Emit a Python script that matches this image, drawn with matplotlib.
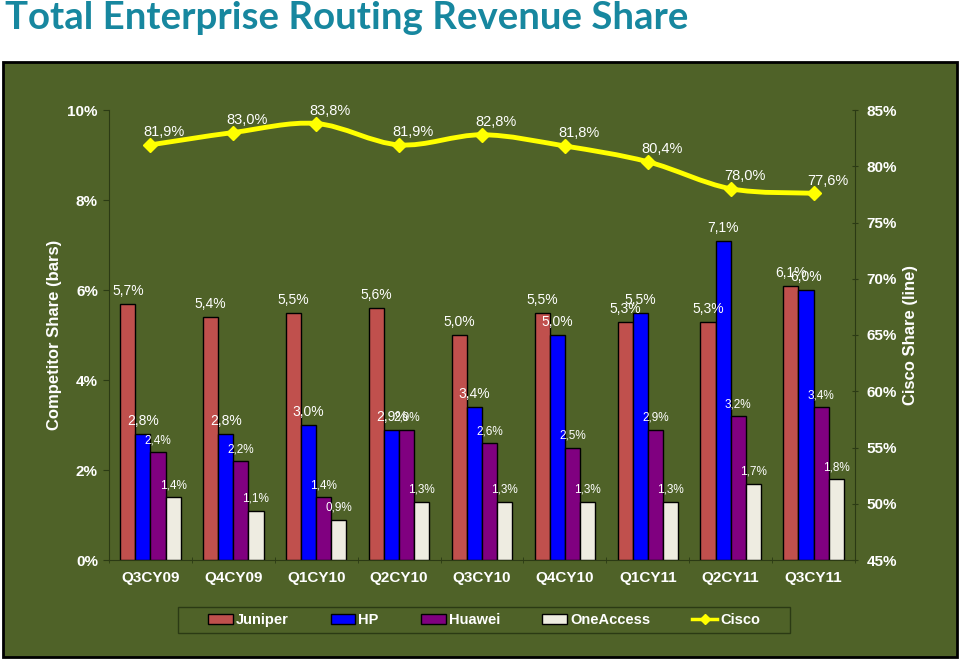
import numpy as np
import matplotlib.pyplot as plt
from matplotlib.patches import Rectangle, PathPatch
from matplotlib.path import Path
from matplotlib.lines import Line2D

quarters = ["Q3CY09", "Q4CY09", "Q1CY10", "Q2CY10", "Q3CY10", "Q4CY10", "Q1CY11", "Q2CY11", "Q3CY11"]
juniper = [5.7, 5.4, 5.5, 5.6, 5.0, 5.5, 5.3, 5.3, 6.1]
hp = [2.8, 2.8, 3.0, 2.9, 3.4, 5.0, 5.5, 7.1, 6.0]
huawei = [2.4, 2.2, 1.4, 2.9, 2.6, 2.5, 2.9, 3.2, 3.4]
oneaccess = [1.4, 1.1, 0.9, 1.3, 1.3, 1.3, 1.3, 1.7, 1.8]
cisco = [81.9, 83.0, 83.8, 81.9, 82.8, 81.8, 80.4, 78.0, 77.6]

left_ticks = [0, 2, 4, 6, 8, 10]
right_ticks = [45, 50, 55, 60, 65, 70, 75, 80, 85]

bg = "#4F6228"
dark = "#2B3A14"
plt.rcParams["font.family"] = ["Liberation Sans", "DejaVu Sans"]

fig = plt.figure(figsize=(9.6, 6.6), dpi=100)
fig.patch.set_facecolor("white")

# olive panel with black border, behind the axes
fig.patches.append(Rectangle((3/960, 3/660), 954/960, 595/660, transform=fig.transFigure,
                             facecolor=bg, edgecolor="black", linewidth=2, zorder=-10))
# legend box
fig.patches.append(Rectangle((178/960, 1 - 633/660), 612/960, 26/660, transform=fig.transFigure,
                             facecolor=bg, edgecolor=dark, linewidth=1, zorder=-5))
fig.text(5/960, 1 - 18/660, "Total Enterprise Routing Revenue Share", fontsize=27.6,
         fontweight="bold", color="#17879F", family=["Lato", "DejaVu Sans"], va="center", ha="left")

ax = fig.add_axes([109/960, 1 - 560/660, 746/960, 450/660])
ax.set_facecolor("none")
x = np.arange(len(quarters))
w = 0.182
series = [(juniper, "#C0504D", "Juniper", 10), (hp, "#0000FF", "HP", 10),
          (huawei, "#800080", "Huawei", 8.5), (oneaccess, "#EEECE1", "OneAccess", 8.5)]
for i, (vals, col, name, fs) in enumerate(series):
    xs = x + (i - 1.5) * w
    ax.bar(xs, vals, width=w, color=col, edgecolor="black", linewidth=1.0, label=name, zorder=2)
    for xi, v in zip(xs, vals):
        ax.annotate(f"{v:.1f}%".replace(".", ","), (xi, v), xytext=(0, 4), textcoords="offset points",
                    ha="center", va="bottom", color="white", fontsize=fs, zorder=5)

ax.set_xlim(-0.5, len(quarters) - 0.5)
ax.set_ylim(0, 10)
ax.set_yticks(left_ticks)
ax.set_yticklabels([f"{t}%" for t in left_ticks], color="white", fontweight="bold", fontsize=11)
ax.set_xticks(x)
ax.set_xticklabels(quarters, color="white", fontweight="bold", fontsize=11)
ax.set_xticks(np.arange(-0.5, len(quarters), 1), minor=True)
ax.tick_params(axis="x", which="major", length=0, pad=8)
ax.tick_params(axis="x", which="minor", length=4, direction="inout", color=dark)
ax.tick_params(axis="y", length=4, color=dark, pad=4)
for s in ["top", "right"]:
    ax.spines[s].set_visible(False)
for s in ["left", "bottom"]:
    ax.spines[s].set_color(dark)
ax.set_ylabel("Competitor Share (bars)", color="white", fontsize=12, fontweight="bold", labelpad=4)

ax2 = ax.twinx()
ax2.set_ylim(45, 85)
ax2.set_yticks(right_ticks)
ax2.set_yticklabels([f"{t}%" for t in right_ticks], color="white", fontweight="bold", fontsize=11)
ax2.tick_params(axis="y", length=5, color=dark, direction="inout", pad=6)
for s in ["top", "left", "bottom"]:
    ax2.spines[s].set_visible(False)
ax2.spines["right"].set_color(dark)
ax2.set_ylabel("Cisco Share (line)", color="white", fontsize=12, fontweight="bold", labelpad=4)

# smoothed line (bezier through the data points)
pts = np.column_stack([x, cisco])
verts = [tuple(pts[0])]
codes = [Path.MOVETO]
t = 1 / 6
for k in range(len(pts) - 1):
    p0 = pts[k - 1] if k > 0 else pts[k]
    p1, p2 = pts[k], pts[k + 1]
    p3 = pts[k + 2] if k + 2 < len(pts) else pts[k + 1]
    verts += [tuple(p1 + (p2 - p0) * t), tuple(p2 - (p3 - p1) * t), tuple(p2)]
    codes += [Path.CURVE4] * 3
ax2.add_patch(PathPatch(Path(verts, codes), facecolor="none", edgecolor="#FFFF00", linewidth=3.5, zorder=3))
ax2.plot(x, cisco, linestyle="none", marker="D", markersize=7, color="#FFFF00", zorder=4)
for xi, v in zip(x, cisco):
    ax2.annotate(f"{v:.1f}%".replace(".", ","), (xi, v), xytext=(10, 4), textcoords="offset points",
                 ha="center", va="bottom", color="white", fontsize=10.5, zorder=5)

handles, labels = ax.get_legend_handles_labels()
handles.append(Line2D([], [], color="#FFFF00", linewidth=2.5, marker="D", markersize=5))
labels.append("Cisco")
leg = fig.legend(handles, labels, loc="center", bbox_to_anchor=(484/960, 1 - 620/660), ncol=5,
                 frameon=False, fontsize=10.5, handlelength=1.7, handleheight=0.7, columnspacing=2.9,
                 handletextpad=0.2)
for txt in leg.get_texts():
    txt.set_color("white")
    txt.set_fontweight("bold")
for lh in leg.legend_handles[:4]:
    lh.set_edgecolor("black")

fig.savefig("out.png", dpi=100)
